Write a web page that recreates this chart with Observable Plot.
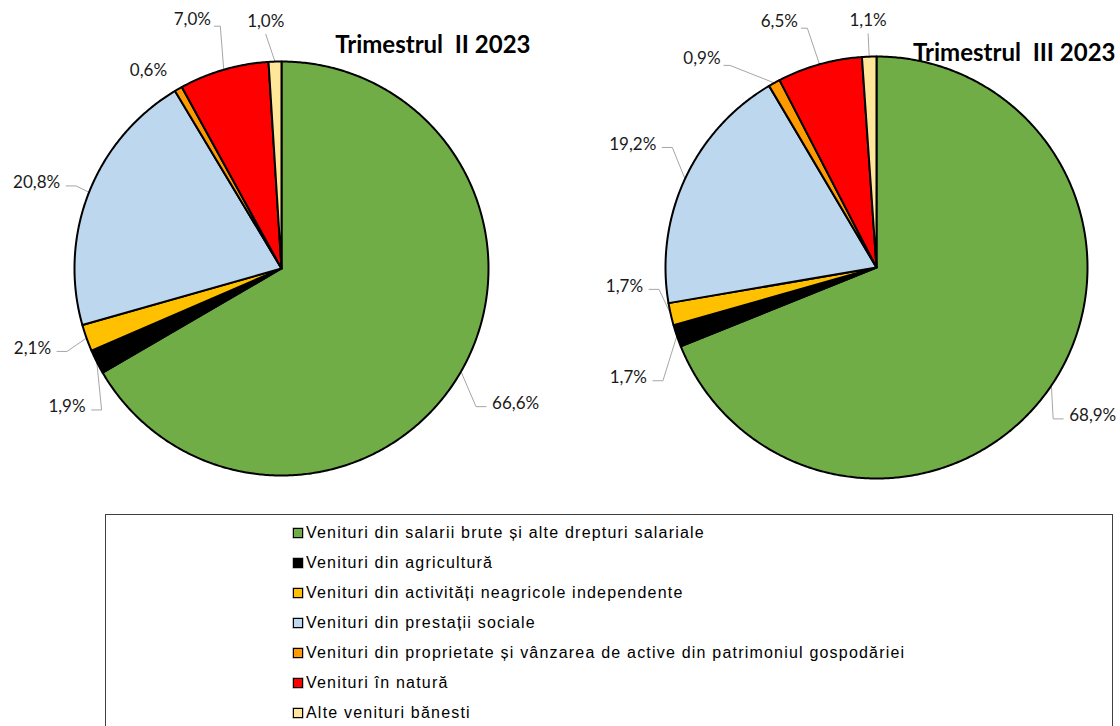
<!DOCTYPE html>
<html>
<head>
<meta charset="utf-8">
<script src="https://cdn.jsdelivr.net/npm/d3@7"></script>
<script src="https://cdn.jsdelivr.net/npm/@observablehq/plot@0.6"></script>
<style>
  body { margin: 0; background: #fff; }
  #wrap { position: relative; width: 1120px; height: 726px; overflow: hidden; background: #fff; }
  #pies { position: absolute; left: 0; top: 0; display: flex; }
  #legend { position: absolute; left: 105px; top: 514px; width: 1008px; height: 240px;
            border: 1px solid #404040; box-sizing: border-box;
            font-family: "Liberation Sans", Arial, sans-serif; font-size: 16px; letter-spacing: 1.2px; color: #000; }
  .item { position: absolute; left: 187px; height: 20px; display: flex; align-items: center; white-space: nowrap; }
  .sw { width: 8px; height: 8px; border: 1.5px solid #000; margin-right: 3px; box-shadow: 0 0 0 0.5px #888; }
</style>
</head>
<body>
<div id="wrap">
  <div id="pies"></div>
  <div id="legend"></div>
</div>
<script>
// ---- data ----
const categories = [
  "Venituri din salarii brute și alte drepturi salariale",
  "Venituri din agricultură",
  "Venituri din activități neagricole independente",
  "Venituri din prestații sociale",
  "Venituri din proprietate și vânzarea de active din patrimoniul gospodăriei",
  "Venituri în natură",
  "Alte venituri bănesti"
];
const colors = ["#70AD47", "#000000", "#FFC000", "#BDD7EE", "#FF9900", "#FF0000", "#FFE699"];
const titles = ["Trimestrul\u00a0\u00a0II 2023", "Trimestrul\u00a0\u00a0III 2023"];
const valuesQ2 = [66.6, 1.9, 2.1, 20.8, 0.6, 7.0, 1.0];
const valuesQ3 = [68.9, 1.7, 1.7, 19.2, 0.9, 6.5, 1.1];

// ---- layout (positions / styles only) ----
const layout = [
  { width: 560, cx: 281, cy: 268, r: 207, titleDx: -30, titleDy: 35,
    nudge: [[0.02, -0.08], [0.08, -0.15], [-0.03, 0], [0, -0.01], [-0.07, -0.04], [-0.11, 0.10], [-0.04, 0.045]],
    leader: [true, true, true, true, false, true, true] },
  { width: 560, cx: 316, cy: 267, r: 211, titleDx: -5, titleDy: 43,
    nudge: [[-0.04, -0.06], [0, -0.15], [0.015, 0.165], [0, 0.10], [-0.27, -0.015], [-0.15, 0.06], [0, 0.02]],
    leader: [true, true, true, true, true, true, true] }
];

const fmt = v => v.toFixed(1).replace(".", ",") + "%";

function piePlot(values, title, L) {
  const total = d3.sum(values);
  let acc = 0;
  const slices = values.map((v, i) => {
    const a0 = acc / total * 2 * Math.PI; acc += v;
    const a1 = acc / total * 2 * Math.PI;
    return { cat: categories[i], v, a0, a1, mid: (a0 + a1) / 2, i };
  });
  const wedge = [];
  for (const s of slices) {
    wedge.push({ cat: s.cat, x: 0, y: 0 });
    const n = Math.max(2, Math.ceil((s.a1 - s.a0) / (Math.PI / 360)));
    for (let k = 0; k <= n; k++) {
      const a = s.a0 + (s.a1 - s.a0) * k / n;
      wedge.push({ cat: s.cat, x: Math.sin(a), y: Math.cos(a) });
    }
  }
  const RHO = 1.15;
  const labels = slices.map(s => {
    const sx = Math.sin(s.mid), sy = Math.cos(s.mid);
    const anchor = sx > 0.55 ? "start" : sx < -0.55 ? "end" : "middle";
    const [dx, dy] = L.nudge[s.i];
    return { text: fmt(s.v), x: RHO * sx + dx, y: RHO * sy + dy, anchor, ex: sx, ey: sy, i: s.i };
  });
  const leaders = [];
  const g = 6 / L.r, h = 10 / L.r;
  labels.forEach(l => {
    if (!L.leader[l.i]) return;
    let pts;
    const ly = l.y - 3 / L.r;
    if (l.anchor === "end") pts = [[l.x + g, ly], [l.x + g + h, ly], [l.ex, l.ey]];
    else if (l.anchor === "start") pts = [[l.x - g, ly], [l.x - g - h, ly], [l.ex, l.ey]];
    else if (Math.abs(l.ex) > 0.15) {
      const my = l.y - 7 / L.r;
      pts = [[l.x + 22 / L.r, my], [l.x + 28 / L.r, my], [l.ex, l.ey]];
    }
    else pts = [[l.x, l.y - 13 / L.r], [l.ex, l.ey]];
    pts.forEach(([x, y]) => leaders.push({ id: l.i, x, y }));
  });
  const textOpts = { x: "x", y: "y", text: "text", fontSize: 17, fill: "#1a1a1a", fontFamily: "Lato" };
  return Plot.plot({
    width: L.width, height: 505, margin: 0,
    x: { domain: [-1, 1], range: [L.cx - L.r, L.cx + L.r], axis: null },
    y: { domain: [-1, 1], range: [L.cy + L.r, L.cy - L.r], axis: null },
    color: { domain: categories, range: colors },
    style: { fontFamily: "Lato", overflow: "visible", background: "transparent" },
    marks: [
      Plot.line(leaders, { x: "x", y: "y", z: "id", stroke: "#A6A6A6", strokeWidth: 1, strokeLinejoin: "miter" }),
      Plot.line(wedge, { x: "x", y: "y", z: "cat", fill: "cat", stroke: "#000", strokeWidth: 2, curve: "linear-closed" }),
      Plot.text(labels.filter(d => d.anchor === "start"), { ...textOpts, textAnchor: "start" }),
      Plot.text(labels.filter(d => d.anchor === "end"), { ...textOpts, textAnchor: "end" }),
      Plot.text(labels.filter(d => d.anchor === "middle"), { ...textOpts, textAnchor: "middle" }),
      Plot.text([title], { frameAnchor: "top-right", dx: L.titleDx, dy: L.titleDy, text: d => d,
        fontSize: 24, fontWeight: "bold", textAnchor: "end", fill: "#000", fontFamily: "Lato" })
    ]
  });
}

const pies = document.getElementById("pies");
pies.appendChild(piePlot(valuesQ2, titles[0], layout[0]));
pies.appendChild(piePlot(valuesQ3, titles[1], layout[1]));

// legend
const legend = document.getElementById("legend");
categories.forEach((c, i) => {
  const it = document.createElement("div");
  it.className = "item";
  it.style.top = (8 + i * 30) + "px";
  const sw = document.createElement("span");
  sw.className = "sw";
  sw.style.background = colors[i];
  const tx = document.createElement("span");
  tx.textContent = c;
  it.appendChild(sw); it.appendChild(tx);
  legend.appendChild(it);
});
</script>
</body>
</html>
